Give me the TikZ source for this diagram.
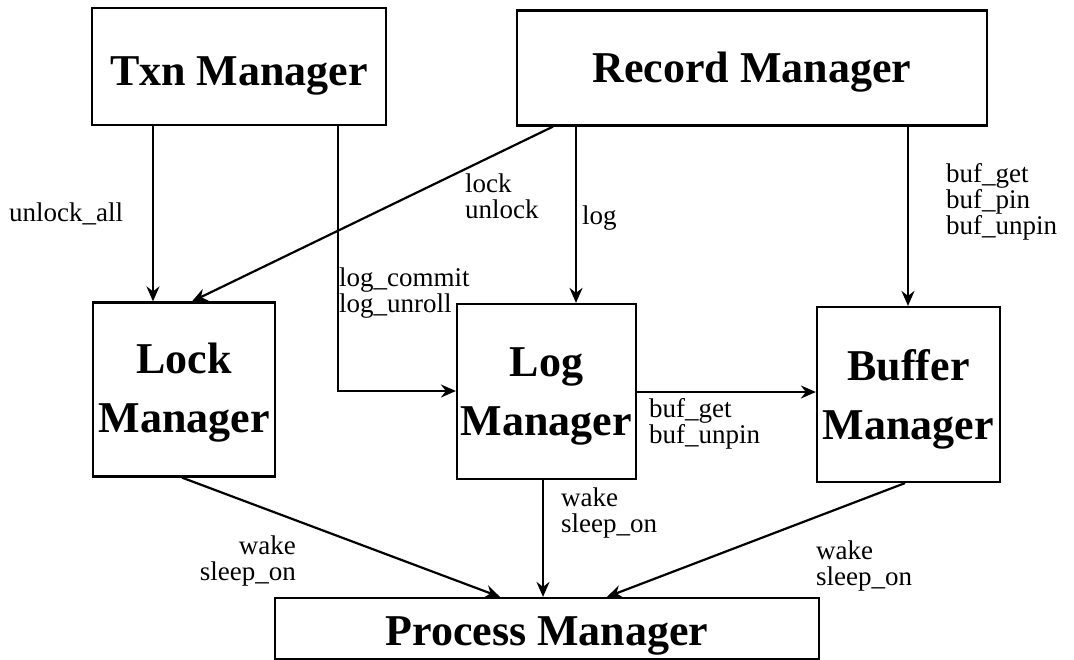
\documentclass[tikz,border=0pt]{standalone}
\usepackage{fontspec}
\setmainfont{Liberation Serif}
\usetikzlibrary{arrows.meta}
% lower the title inside a box while keeping its extent for centring
\newcommand{\lowered}[2]{\raisebox{-#1}[\height][\depth]{\begin{tabular}{@{}c@{}}#2\end{tabular}}}
\begin{document}
\begin{tikzpicture}[x=1pt,y=-1pt,
  box/.style={draw,line width=2.2pt,inner sep=0pt,align=center,
    font=\fontsize{44}{59}\selectfont\bfseries},
  call/.style={line width=2.2pt,-{Stealth[length=15pt,width=13pt,inset=5pt]}},
  lbl/.style={inner sep=0pt,align=left,font=\fontsize{27}{26}\selectfont}]
\clip (0,0) rectangle (1074,659);
\fill[white] (0,0) rectangle (1074,659);

% modules
\node[box,minimum width=294pt,minimum height=117pt] (txn) at (239,66.5)
  {\lowered{7pt}{Txn Manager}};
\node[box,minimum width=470pt,minimum height=115pt] (rec) at (752,68)
  {\lowered{3pt}{Record Manager}};
\node[box,minimum width=182pt,minimum height=174pt] (lock) at (184,389.5)
  {\lowered{2pt}{Lock\\Manager}};
\node[box,minimum width=179pt,minimum height=175pt] (log) at (546.5,391.5)
  {\lowered{3pt}{Log\\Manager}};
\node[box,minimum width=183pt,minimum height=175pt] (buf) at (908.5,394.5)
  {\lowered{4pt}{Buffer\\Manager}};
\node[box,minimum width=544pt,minimum height=61pt] (proc) at (547,628.5)
  {\lowered{5pt}{Process Manager}};

% calls between modules
\draw[call] (153,0 |- txn.south) -- (153,0 |- lock.north);
\draw[call] (338,0 |- txn.south) |- (log.west |- 0,391);
\draw[call] (553,0 |- rec.south) -- (192,0 |- lock.north);
\draw[call] (576,0 |- rec.south) -- (576,0 |- log.north);
\draw[call] (908,0 |- rec.south) -- (908,0 |- buf.north);
\draw[call] (log.east |- 0,392) -- (buf.west |- 0,392);
\draw[call] (182,0 |- lock.south) -- (500,0 |- proc.north);
\draw[call] (543,0 |- log.south) -- (543,0 |- proc.north);
\draw[call] (905,0 |- buf.south) -- (607,0 |- proc.north);

% call names
\node[lbl,anchor=west] (l1) at (9,214) {unlock\_all};
\node[lbl,anchor=west] (l2) at (339,293) {log\_commit\\log\_unroll};
\node[lbl,anchor=west] (l3) at (465,196) {lock\\unlock};
\node[lbl,anchor=west] (l4) at (582,218) {log};
\node[lbl,anchor=west] (l5) at (946,202) {buf\_get\\buf\_pin\\buf\_unpin};
\node[lbl,anchor=west] (l6) at (649,424) {buf\_get\\buf\_unpin};
\node[lbl,anchor=west] (l7) at (561,513) {wake\\sleep\_on};
\node[lbl,anchor=east,align=right] (l8) at (296,561) {wake\\sleep\_on};
\node[lbl,anchor=west] (l9) at (816,566) {wake\\sleep\_on};
\end{tikzpicture}
\end{document}
